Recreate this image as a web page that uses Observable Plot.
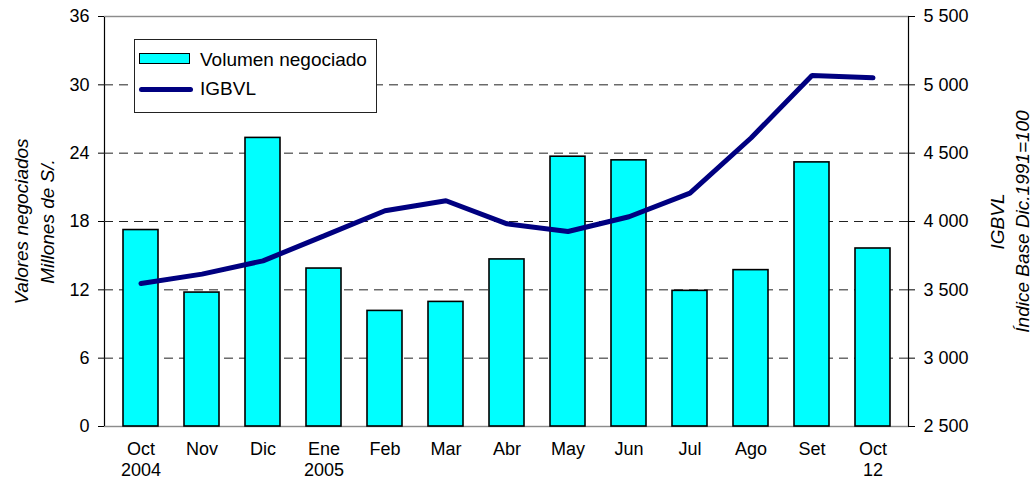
<!DOCTYPE html>
<html>
<head>
<meta charset="utf-8">
<script src="https://cdn.jsdelivr.net/npm/d3@7"></script>
<script src="https://cdn.jsdelivr.net/npm/@observablehq/plot@0.6"></script>
<style>
  body { margin: 0; background: #fff; font-family: "Liberation Sans", Arial, sans-serif; }
  #wrap { position: relative; width: 1036px; height: 484px; }
  #wrap svg { position: absolute; left: 0; top: 0; }
  #legend { position: absolute; left: 134px; top: 39px; width: 241px; height: 72px; border: 1px solid #222; background: #fff; font-size: 19px; color: #000; }
  .swatch-bar { position: absolute; left: 4px; width: 49px; height: 9px; background: #00ffff; border: 1.5px solid #000; }
  .swatch-line { position: absolute; left: 4px; width: 54px; height: 5px; border-radius: 3px; background: #000080; }
  .lbl { position: absolute; left: 65px; white-space: nowrap; }
</style>
</head>
<body>
<div id="wrap"></div>
<script>
const categories = ["Oct 2004","Nov 2004","Dic 2004","Ene 2005","Feb 2005","Mar 2005","Abr 2005","May 2005","Jun 2005","Jul 2005","Ago 2005","Set 2005","Oct 2005"];
const tickLabels = ["Oct\n2004","Nov","Dic","Ene\n2005","Feb","Mar","Abr","May","Jun","Jul","Ago","Set","Oct\n12"];
const volumen = [17.25, 11.76, 25.34, 13.87, 10.15, 10.94, 14.67, 23.69, 23.37, 11.91, 13.73, 23.19, 15.63];
const igbvl = [3546, 3615, 3712, 3895, 4079, 4152, 3983, 3927, 4035, 4208, 4611, 5068, 5051];
const leftTicks = [0, 6, 12, 18, 24, 30, 36];
const rightTicks = [2500, 3000, 3500, 4000, 4500, 5000, 5500];
const gridTicks = [6, 12, 18, 24, 30];
const seriesNames = ["Volumen negociado", "IGBVL"];
const leftTitle = ["Valores negociados", "Millones de S/."];
const rightTitle = ["IGBVL", "Índice Base Dic.1991=100"];

const L0 = leftTicks[0], L1 = leftTicks[leftTicks.length - 1];
const R0 = rightTicks[0], R1 = rightTicks[rightTicks.length - 1];
const toLeft = v => L0 + (v - R0) / (R1 - R0) * (L1 - L0);
const toRight = d => R0 + (d - L0) / (L1 - L0) * (R1 - R0);
const fmtSpace = v => d3.format(",")(Math.round(v)).replace(/,/g, " ");
const labelOf = new Map(categories.map((c, i) => [c, tickLabels[i]]));

const data = categories.map((c, i) => ({cat: c, vol: volumen[i], idx: igbvl[i], idxL: toLeft(igbvl[i])}));

const font = '"Liberation Sans", Arial, sans-serif';

const chart = Plot.plot({
  width: 1036,
  height: 484,
  marginLeft: 104,
  marginRight: 128,
  marginTop: 16,
  marginBottom: 58,
  style: {fontFamily: font, fontSize: "18px", color: "#000", background: "transparent", overflow: "visible"},
  x: {type: "band", domain: categories, paddingInner: 0.43, paddingOuter: 0.215},
  y: {domain: [L0, L1]},
  marks: [
    Plot.frame({stroke: "#000", strokeWidth: 1.2}),
    Plot.ruleY(gridTicks, {stroke: "#222", strokeDasharray: "9,6"}),
    Plot.ruleY([L0, L1], {stroke: "#8c8c8c", strokeWidth: 1.2}),
    Plot.barY(data, {x: "cat", y: "vol", fill: "#00ffff", stroke: "#000", strokeWidth: 1.6}),
    Plot.line(data, {x: "cat", y: "idxL", stroke: "#000080", strokeWidth: 5, strokeLinejoin: "miter", strokeLinecap: "round"}),
    Plot.axisY({anchor: "left", ticks: leftTicks, tickSize: 6, tickPadding: 9, label: null, fontSize: 18, stroke: "#000"}),
    Plot.axisY({anchor: "right", ticks: rightTicks.map(toLeft), tickFormat: d => fmtSpace(toRight(d)), tickSize: 6, tickPadding: 9, label: null, fontSize: 18, stroke: "#000"}),
    Plot.axisX({anchor: "bottom", tickSize: 0, tickPadding: 13, tickFormat: d => labelOf.get(d), label: null, fontSize: 18, lineHeight: 1.18}),
    Plot.text([leftTitle.join("\n")], {frameAnchor: "left", rotate: -90, dx: -72, lineHeight: 1.4, fontStyle: "italic", fontSize: 19, textAnchor: "middle", fill: "#000"}),
    Plot.text([rightTitle.join("\n")], {frameAnchor: "right", rotate: -90, dx: 100, lineHeight: 1.3, fontStyle: "italic", fontSize: 19, textAnchor: "middle", fill: "#000"})
  ]
});

const wrap = document.getElementById("wrap");
wrap.appendChild(chart);

const legend = document.createElement("div");
legend.id = "legend";
legend.innerHTML =
  `<div class="swatch-bar" style="top:13px"></div><div class="lbl" style="top:9px">${seriesNames[0]}</div>` +
  `<div class="swatch-line" style="top:47px"></div><div class="lbl" style="top:38px">${seriesNames[1]}</div>`;
wrap.appendChild(legend);
</script>
</body>
</html>
